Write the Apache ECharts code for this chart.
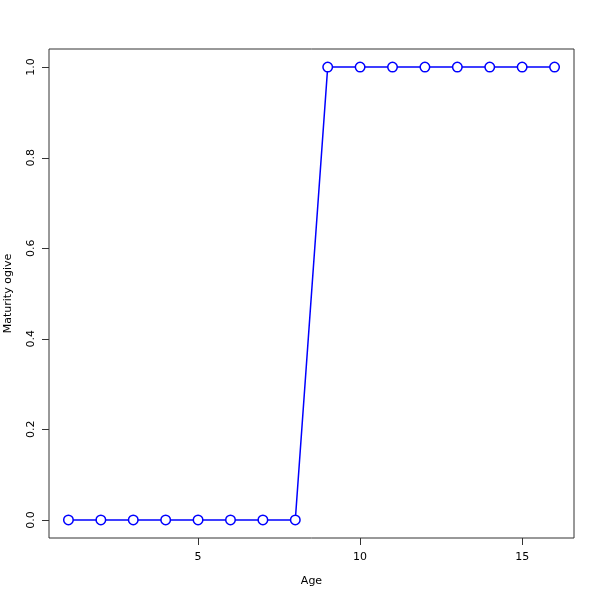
<!DOCTYPE html>
<html><head><meta charset="utf-8">
<script src="https://cdn.jsdelivr.net/npm/echarts@6/dist/echarts.min.js"></script>
<style>html,body{margin:0;padding:0;background:#fff}#c{width:600px;height:600px}</style>
</head><body><div id="c"></div>
<script>
var ages = [1,2,3,4,5,6,7,8,9,10,11,12,13,14,15,16];
var maturity = [0,0,0,0,0,0,0,0,1,1,1,1,1,1,1,1];
var xTicks = [5,10,15];
var yTicks = [0,0.2,0.4,0.6,0.8,1.0];

var xMin = 0.4, xMax = 16.6, yMin = -0.04, yMax = 1.04;
var chart = echarts.init(document.getElementById('c'), null, {renderer:'canvas'});
var font = 'DejaVu Sans';
chart.setOption({
  animation:false,
  backgroundColor:'#fff',
  grid:{left:49, top:49, width:525, height:489, outerBoundsMode:'none',
        show:true, borderColor:'#333', borderWidth:1, backgroundColor:'transparent'},
  xAxis:{
    type:'value', min:xMin, max:xMax,
    name:'Age', nameLocation:'middle', nameGap:38,
    nameTextStyle:{fontFamily:font, fontSize:11, color:'#000'},
    axisLine:{show:false, onZero:false},
    splitLine:{show:false},
    axisTick:{show:false},
    axisLabel:{fontFamily:font, fontSize:11, color:'#000', margin:14, customValues:xTicks, formatter:function(v){return String(v);}}
  },
  yAxis:{
    type:'value', min:yMin, max:yMax,
    name:'Maturity ogive', nameLocation:'middle', nameGap:35, nameRotate:90,
    nameTextStyle:{fontFamily:font, fontSize:11, color:'#000'},
    axisLine:{show:false, onZero:false},
    splitLine:{show:false},
    axisTick:{show:false},
    axisLabel:{fontFamily:font, fontSize:11, color:'#000', margin:12, rotate:90, customValues:yTicks, formatter:function(v){return v.toFixed(1);}}
  },
  series:[{
    type:'line',
    data:ages.map(function(a,i){return [a, maturity[i]];}),
    symbol:'circle', symbolSize:9.5, showAllSymbol:true,
    lineStyle:{color:'#0000ff', width:1.5},
    itemStyle:{color:'#fff', borderColor:'#0000ff', borderWidth:1.5}
  }]
});

// tick marks placed through the chart's own coordinate conversion
var els = [];
xTicks.forEach(function(v){
  var p = chart.convertToPixel({gridIndex:0}, [v, yMin]);
  var x = Math.round(p[0]) + 0.5, y = Math.round(p[1]);
  els.push({type:'line', silent:true, z:100,
    shape:{x1:x, y1:y, x2:x, y2:y+7}, style:{stroke:'#333', lineWidth:1}});
});
yTicks.forEach(function(v){
  var p = chart.convertToPixel({gridIndex:0}, [xMin, v]);
  var x = Math.round(p[0]), y = Math.round(p[1]) + 0.5;
  els.push({type:'line', silent:true, z:100,
    shape:{x1:x-7, y1:y, x2:x, y2:y}, style:{stroke:'#333', lineWidth:1}});
});
chart.setOption({graphic:{elements:els}});
</script></body></html>
